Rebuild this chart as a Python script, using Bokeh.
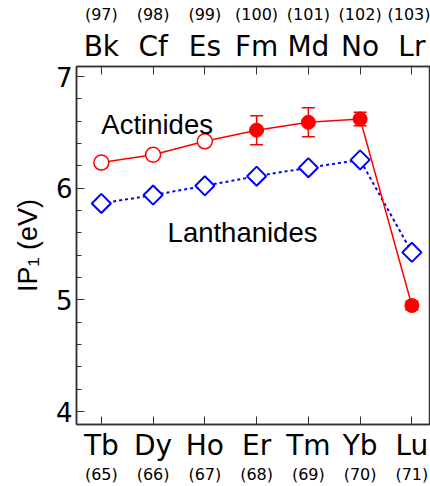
import math
from bokeh.plotting import figure
from bokeh.models import (LinearAxis, FixedTicker, Range1d, ColumnDataSource,
                          Whisker, TeeHead, Label)
from bokeh.embed import file_html
from bokeh.resources import INLINE

# ---- data ----
lanthanides = ["Tb", "Dy", "Ho", "Er", "Tm", "Yb", "Lu"]
lan_z = ["(65)", "(66)", "(67)", "(68)", "(69)", "(70)", "(71)"]
actinides = ["Bk", "Cf", "Es", "Fm", "Md", "No", "Lr"]
act_z = ["(97)", "(98)", "(99)", "(100)", "(101)", "(102)", "(103)"]
lan_ip = [5.864, 5.939, 6.022, 6.108, 6.184, 6.254, 5.426]
act_ip = [6.23, 6.30, 6.42, 6.52, 6.59, 6.62, 4.95]
act_err = [0.0, 0.0, 0.0, 0.13, 0.13, 0.06, 0.04]
act_measured = [False, False, False, True, True, True, True]
pos = list(range(7))

RED = "#ff0000"
BLUE = "#0000ff"
AX = "#333333"

p = figure(width=430, height=486, output_backend="svg", toolbar_location=None,
           x_range=Range1d(-0.48, 6.36), y_range=Range1d(3.885, 7.09),
           min_border_left=76, min_border_top=66, min_border_bottom=59,
           min_border_right=0)
p.grid.visible = False
p.outline_line_color = AX
p.outline_line_width = 1.5
p.background_fill_color = "white"
p.border_fill_color = "white"

# ---- y axis ----
ya = p.yaxis[0]
ya.ticker = FixedTicker(ticks=[4, 5, 6, 7],
                        minor_ticks=[round(3.8 + 0.2 * i, 1) for i in range(18)])
ya.major_label_text_font = "DejaVu Sans"
ya.major_label_text_font_size = "26px"
ya.major_label_text_color = "black"
ya.major_tick_in = 8
ya.major_tick_out = 0
ya.minor_tick_in = 5
ya.minor_tick_out = 0
ya.major_label_standoff = 4
ya.axis_line_color = AX
ya.axis_line_width = 1.5
ya.major_tick_line_color = AX
ya.minor_tick_line_color = AX
ya.axis_label = "IP\u2081 (eV)"
ya.axis_label_text_font = "Liberation Sans"
ya.axis_label_text_font_style = "normal"
ya.axis_label_text_font_size = "27px"
ya.axis_label_text_color = "black"
ya.axis_label_standoff = 10

# ---- bottom axes ----
xa = p.xaxis[0]
xa.ticker = FixedTicker(ticks=pos, minor_ticks=[])
xa.major_label_overrides = {i: lanthanides[i] for i in pos}
xa.major_label_text_font = "DejaVu Sans"
xa.major_label_text_font_size = "28px"
xa.major_label_text_color = "black"
xa.major_tick_in = 8
xa.major_tick_out = 0
xa.major_label_standoff = 4
xa.axis_line_color = AX
xa.axis_line_width = 1.5
xa.major_tick_line_color = AX

xb = LinearAxis(ticker=FixedTicker(ticks=pos, minor_ticks=[]),
                major_label_overrides={i: lan_z[i] for i in pos})
xb.major_label_text_font = "DejaVu Sans"
xb.major_label_text_font_size = "16px"
xb.major_label_text_color = "black"
xb.axis_line_color = None
xb.major_tick_line_color = None
xb.minor_tick_line_color = None
xb.major_tick_in = 0
xb.major_tick_out = 0
xb.major_label_standoff = 0
p.add_layout(xb, "below")

# ---- top axes ----
xt = LinearAxis(ticker=FixedTicker(ticks=pos, minor_ticks=[]),
                major_label_overrides={i: actinides[i] for i in pos})
xt.major_label_text_font = "DejaVu Sans"
xt.major_label_text_font_size = "28px"
xt.major_label_text_color = "black"
xt.major_tick_in = 8
xt.major_tick_out = 0
xt.major_label_standoff = 4
xt.axis_line_color = AX
xt.axis_line_width = 1.5
xt.major_tick_line_color = AX
xt.minor_tick_line_color = None
p.add_layout(xt, "above")

xt2 = LinearAxis(ticker=FixedTicker(ticks=pos, minor_ticks=[]),
                 major_label_overrides={i: act_z[i] for i in pos})
xt2.major_label_text_font = "DejaVu Sans"
xt2.major_label_text_font_size = "16px"
xt2.major_label_text_color = "black"
xt2.axis_line_color = None
xt2.major_tick_line_color = None
xt2.minor_tick_line_color = None
xt2.major_tick_in = 0
xt2.major_tick_out = 0
xt2.major_label_standoff = 3
p.add_layout(xt2, "above")

# ---- lanthanides ----
p.line(pos, lan_ip, line_color=BLUE, line_width=2, line_dash="3 3")
p.scatter(pos, lan_ip, marker="square", angle=math.pi / 4, size=13.5,
          line_color=BLUE, line_width=2, fill_color="white")

# ---- actinides ----
p.line(pos, act_ip, line_color=RED, line_width=1.5)
meas_x = [x for x, m in zip(pos, act_measured) if m]
meas_y = [y for y, m in zip(act_ip, act_measured) if m]
meas_e = [e for e, m in zip(act_err, act_measured) if m]
calc_x = [x for x, m in zip(pos, act_measured) if not m]
calc_y = [y for y, m in zip(act_ip, act_measured) if not m]

err_src = ColumnDataSource(dict(x=meas_x,
                                lower=[y - e for y, e in zip(meas_y, meas_e)],
                                upper=[y + e for y, e in zip(meas_y, meas_e)]))
w = Whisker(source=err_src, base="x", lower="lower", upper="upper",
            line_color=RED, line_width=1.5,
            lower_head=TeeHead(size=13, line_color=RED, line_width=1.5),
            upper_head=TeeHead(size=13, line_color=RED, line_width=1.5))
p.add_layout(w)

p.scatter(calc_x, calc_y, marker="circle", size=15, line_color=RED,
          line_width=1.5, fill_color="white")
p.scatter(meas_x, meas_y, marker="circle", size=14, line_color=RED,
          line_width=1, fill_color=RED)

# ---- annotations ----
p.add_layout(Label(x=0.0, y=6.574, text="Actinides",
                   text_font="Liberation Sans", text_font_size="27.5px",
                   text_color="black", text_baseline="alphabetic"))
p.add_layout(Label(x=1.28, y=5.607, text="Lanthanides",
                   text_font="Liberation Sans", text_font_size="27.5px",
                   text_color="black", text_baseline="alphabetic"))

open("out.html", "w").write(file_html(p, INLINE))
